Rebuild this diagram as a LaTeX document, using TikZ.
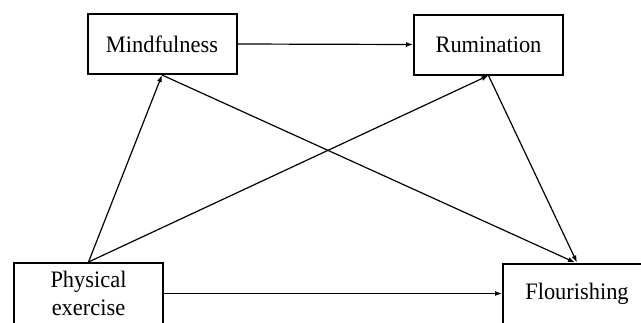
\documentclass[tikz,border=0pt]{standalone}
\usepackage{fontspec}
\setmainfont{Liberation Serif}[FakeStretch=0.95]
\usetikzlibrary{arrows.meta}
\tikzset{
  var/.style={draw, line width=2pt, rectangle, inner sep=0pt, align=center,
    font=\fontsize{23.6}{28.3}\selectfont},
  path/.style={line width=1.2pt, -{Latex[length=7pt,width=5pt]}}
}
\begin{document}
\begin{tikzpicture}[x=1pt,y=-1pt]
  \useasboundingbox (0,0) rectangle (641,322);
  \clip (0,0) rectangle (641,322);
  \node[var, minimum width=149pt, minimum height=60pt] (mind) at (162,44) {Mindfulness};
  \node[var, minimum width=149pt, minimum height=60pt] (rum) at (488.5,44.5) {Rumination};
  \node[var, minimum width=149pt, minimum height=61pt] (phys) at (88.5,293.5) {Physical\\exercise};
  \node[var, minimum width=148pt, minimum height=60pt] (flour) at (577,293.5) {Flourishing};
  \draw[path] (mind.east) -- (rum.west);
  \draw[path] (phys.north) -- (mind.south);
  \draw[path] (phys.north) -- (rum.south);
  \draw[path] (mind.south) -- ([xshift=-2pt]flour.north);
  \draw[path] (rum.south) -- (flour.north);
  \draw[path] (phys.east) -- (flour.west);
\end{tikzpicture}
\end{document}
